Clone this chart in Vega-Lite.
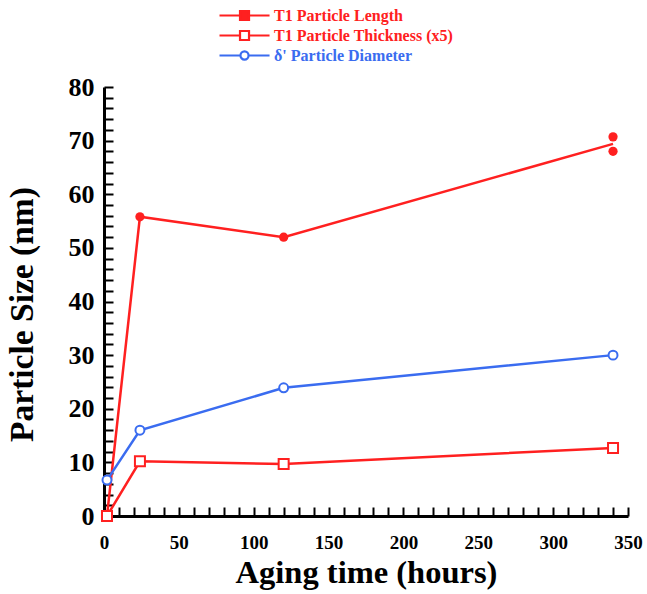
{
  "$schema": "https://vega.github.io/schema/vega-lite/v6.json",
  "width": 524,
  "height": 429,
  "autosize": "none",
  "padding": {"left": 104, "top": 87, "right": 19, "bottom": 78},
  "background": "white",
  "config": {
    "view": {"stroke": null},
    "font": "Liberation Serif"
  },
  "datasets": {
    "lines": [
      {"series": "T1 Particle Length", "hours": 2, "size": 0},
      {"series": "T1 Particle Length", "hours": 24, "size": 55.8},
      {"series": "T1 Particle Length", "hours": 120, "size": 52.0},
      {"series": "T1 Particle Length", "hours": 340, "size": 69.4},
      {"series": "T1 Particle Thickness (x5)", "hours": 2, "size": 0},
      {"series": "T1 Particle Thickness (x5)", "hours": 24, "size": 10.2},
      {"series": "T1 Particle Thickness (x5)", "hours": 120, "size": 9.7},
      {"series": "T1 Particle Thickness (x5)", "hours": 340, "size": 12.7},
      {"series": "δ' Particle Diameter", "hours": 2, "size": 6.7},
      {"series": "δ' Particle Diameter", "hours": 24, "size": 16.0},
      {"series": "δ' Particle Diameter", "hours": 120, "size": 23.9},
      {"series": "δ' Particle Diameter", "hours": 340, "size": 30.0}
    ],
    "points": [
      {"series": "T1 Particle Length", "hours": 24, "size": 55.8},
      {"series": "T1 Particle Length", "hours": 120, "size": 52.0},
      {"series": "T1 Particle Length", "hours": 340, "size": 70.7},
      {"series": "T1 Particle Length", "hours": 340, "size": 68.0},
      {"series": "T1 Particle Thickness (x5)", "hours": 2, "size": 0},
      {"series": "T1 Particle Thickness (x5)", "hours": 24, "size": 10.2},
      {"series": "T1 Particle Thickness (x5)", "hours": 120, "size": 9.7},
      {"series": "T1 Particle Thickness (x5)", "hours": 340, "size": 12.7},
      {"series": "δ' Particle Diameter", "hours": 2, "size": 6.7},
      {"series": "δ' Particle Diameter", "hours": 24, "size": 16.0},
      {"series": "δ' Particle Diameter", "hours": 120, "size": 23.9},
      {"series": "δ' Particle Diameter", "hours": 340, "size": 30.0}
    ]
  },
  "encoding": {
    "x": {
      "field": "hours", "type": "quantitative",
      "scale": {"domain": [0, 350], "nice": false, "zero": false},
      "axis": {
        "title": "Aging time (hours)",
        "values": [0,10,20,30,40,50,60,70,80,90,100,110,120,130,140,150,160,170,180,190,200,210,220,230,240,250,260,270,280,290,300,310,320,330,340,350],
        "labelExpr": "datum.value % 50 === 0 ? datum.label : ''",
        "grid": false, "ticks": true,
        "domainColor": "black", "domainWidth": 3,
        "tickColor": "black", "tickWidth": 2, "tickSize": -9,
        "encode": {"ticks": {"update": {"y2": {"signal": "datum.value % 50 === 0 ? -9 : -5"}}}},
        "labelFont": "Liberation Serif", "labelFontWeight": "bold", "labelFontSize": 19, "labelColor": "black",
        "labelPadding": 26.5, "labelFlush": false, "labelOverlap": false,
        "titleFont": "Liberation Serif", "titleFontWeight": "bold", "titleFontSize": 32.5, "titleColor": "black",
        "titlePadding": 3.5
      }
    },
    "y": {
      "field": "size", "type": "quantitative",
      "scale": {"domain": [0, 80], "nice": false},
      "axis": {
        "title": "Particle Size (nm)",
        "values": [0,2,4,6,8,10,12,14,16,18,20,22,24,26,28,30,32,34,36,38,40,42,44,46,48,50,52,54,56,58,60,62,64,66,68,70,72,74,76,78,80],
        "labelExpr": "datum.value % 10 === 0 ? datum.label : ''",
        "grid": false, "ticks": true,
        "domainColor": "black", "domainWidth": 3,
        "tickColor": "black", "tickWidth": 2, "tickSize": -9,
        "encode": {"ticks": {"update": {"x2": {"signal": "datum.value % 10 === 0 ? 9 : 5"}}}},
        "labelFont": "Liberation Serif", "labelFontWeight": "bold", "labelFontSize": 26, "labelColor": "black",
        "labelPadding": 19, "labelFlush": false, "labelOverlap": false,
        "titleFont": "Liberation Serif", "titleFontWeight": "bold", "titleFontSize": 33.5, "titleColor": "black",
        "titlePadding": 28.5, "titleY": 227
      }
    }
  },
  "layer": [
    {
      "data": {"name": "lines"},
      "mark": {"type": "line", "strokeWidth": 2.5},
      "encoding": {
        "color": {
          "field": "series", "type": "nominal",
          "sort": ["T1 Particle Length", "T1 Particle Thickness (x5)", "δ' Particle Diameter"],
          "scale": {"domain": ["T1 Particle Length", "T1 Particle Thickness (x5)", "δ' Particle Diameter"], "range": ["#ff2020", "#ff2020", "#3a6cf0"]},
          "legend": {
            "orient": "none", "legendX": 114, "legendY": -82,
            "title": null,
            "symbolSize": 324,
            "symbolStrokeWidth": 2.2,
            "labelFont": "Liberation Serif", "labelFontWeight": "bold", "labelFontSize": 16,
            "labelOffset": 35, "labelLimit": 400,
            "rowPadding": -1.5,
            "encode": {
              "symbols": {"update": {
                "shape": {"signal": "indexof(datum.value, 'Diameter') >= 0 ? 'M-1,0H1.33 M2.23,0H4.56 M2.23,0A0.45,0.45 0 1,1 1.33,0A0.45,0.45 0 1,1 2.23,0Z' : 'M-1,0H1.28 M2.28,0H4.56 M1.28,-0.5H2.28V0.5H1.28Z'"},
                "fill": {"signal": "indexof(datum.value, 'Length') >= 0 ? '#ff2020' : 'white'"},
                "fillOpacity": {"value": 1}
              }},
              "labels": {"update": {
                "fill": {"signal": "indexof(datum.value, 'Diameter') >= 0 ? '#3a6cf0' : '#ff2020'"}
              }}
            }
          }
        }
      }
    },
    {
      "data": {"name": "points"},
      "transform": [{"filter": "datum.series === 'T1 Particle Length'"}],
      "mark": {"type": "point", "shape": "circle", "filled": true, "color": "#ff2020", "size": 85, "opacity": 1}
    },
    {
      "data": {"name": "points"},
      "transform": [{"filter": "datum.series === 'T1 Particle Thickness (x5)'"}],
      "mark": {"type": "point", "shape": "square", "filled": false, "fill": "white", "stroke": "#ff2020", "strokeWidth": 2, "size": 100, "opacity": 1}
    },
    {
      "data": {"name": "points"},
      "transform": [{"filter": "indexof(datum.series, 'Diameter') >= 0"}],
      "mark": {"type": "point", "shape": "circle", "filled": false, "fill": "white", "stroke": "#3a6cf0", "strokeWidth": 2, "size": 80, "opacity": 1}
    }
  ]
}
